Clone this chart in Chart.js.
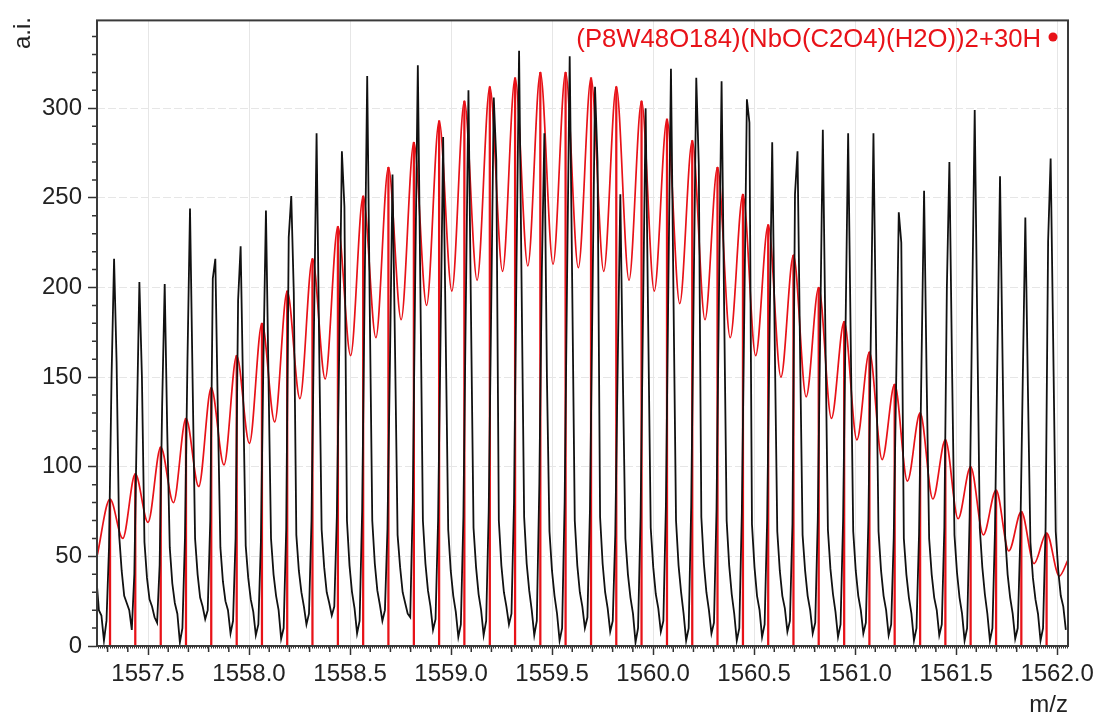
<!DOCTYPE html>
<html>
<head>
<meta charset="utf-8">
<title>Isotope pattern</title>
<script src="https://cdn.jsdelivr.net/npm/chart.js@4.4.1/dist/chart.umd.min.js"></script>
<style>
  html, body { margin: 0; padding: 0; background: #fff; }
</style>
</head>
<body>
<canvas id="spectrum" width="1100" height="715"></canvas>
<script>
// measured spectrum: intensities sampled on a uniform m/z grid
const mzStart = 1557.2443;
const mzStep = 0.01253;
const measuredInt = [
  38, 20,
  17, 3, 14, 55, 150, 216, 158, 62, 42, 28,
  24, 20, 9, 40, 125, 203, 150, 58, 38, 26,
  22, 16, 13, 45, 135, 202, 120, 55, 35, 24,
  18, 2, 10, 60, 160, 244, 150, 60, 40, 27,
  22, 15, 20, 70, 205, 216, 130, 55, 36, 25,
  20, 7, 14, 60, 193, 223, 140, 56, 38, 26,
  19, 6, 12, 58, 160, 243, 150, 60, 40, 28,
  20, 4, 10, 65, 228, 251, 197, 62, 42, 30,
  22, 12, 18, 70, 180, 286, 170, 65, 44, 30,
  24, 17, 22, 72, 170, 276, 245, 70, 45, 30,
  21, 7, 14, 75, 200, 318, 190, 70, 46, 31,
  23, 14, 20, 65, 160, 263, 165, 62, 44, 30,
  24, 18, 16, 80, 210, 324, 200, 70, 46, 31,
  22, 9, 15, 70, 175, 284, 175, 65, 42, 28,
  19, 5, 12, 72, 195, 310, 185, 66, 44, 29,
  20, 6, 14, 75, 190, 306, 271, 70, 45, 30,
  22, 12, 18, 80, 215, 332, 200, 72, 46, 31,
  20, 6, 14, 90, 210, 286, 150, 64, 42, 28,
  18, 3, 10, 80, 210, 329, 200, 70, 45, 30,
  22, 10, 16, 76, 195, 312, 270, 72, 46, 30,
  21, 8, 14, 62, 160, 252, 150, 60, 40, 27,
  18, 2, 10, 72, 190, 300, 180, 66, 44, 29,
  21, 8, 14, 78, 205, 322, 195, 70, 45, 30,
  18, 3, 10, 78, 200, 317, 268, 72, 46, 30,
  20, 7, 13, 76, 200, 315, 190, 70, 45, 29,
  18, 3, 10, 74, 190, 305, 292, 68, 44, 28,
  20, 5, 12, 70, 180, 281, 170, 64, 42, 28,
  21, 8, 14, 68, 252, 276, 165, 62, 42, 28,
  20, 7, 13, 70, 180, 288, 175, 65, 43, 29,
  19, 5, 12, 70, 180, 286, 172, 64, 42, 28,
  20, 7, 13, 70, 178, 286, 172, 64, 42, 28,
  20, 6, 12, 60, 150, 242, 225, 60, 40, 27,
  18, 3, 10, 62, 160, 254, 150, 60, 40, 27,
  20, 6, 12, 66, 200, 270, 160, 62, 41, 27,
  18, 3, 10, 72, 190, 299, 180, 66, 44, 29,
  18, 3, 10, 64, 165, 262, 160, 62, 40, 27,
  18, 4, 10, 60, 150, 239, 145, 58, 38, 26,
  18, 3, 10, 66, 226, 272, 170, 64, 42, 28,
  22, 9
];

// simulated isotope pattern (sticks) and its envelope
const stickMz = [
  1557.312, 1557.437, 1557.563, 1557.688, 1557.813, 1557.939, 1558.064, 1558.189,
  1558.314, 1558.440, 1558.565, 1558.690, 1558.816, 1558.941, 1559.066, 1559.192,
  1559.317, 1559.442, 1559.567, 1559.693, 1559.818, 1559.943, 1560.069, 1560.194,
  1560.319, 1560.445, 1560.570, 1560.695, 1560.820, 1560.946, 1561.071, 1561.196,
  1561.322, 1561.447, 1561.572, 1561.698, 1561.823, 1561.948
];
const stickInt = [
  82, 96, 111, 127, 144, 162, 180, 198, 216, 234, 251, 267, 281, 293, 304, 312,
  317, 320, 320, 317, 312, 304, 294, 282, 267, 252, 235, 218, 200, 181, 164, 146,
  130, 115, 100, 87, 75, 63
];
const valleyMz = [
  1557.375, 1557.500, 1557.626, 1557.751, 1557.876, 1558.002, 1558.127, 1558.252,
  1558.377, 1558.503, 1558.628, 1558.753, 1558.879, 1559.004, 1559.129, 1559.255,
  1559.380, 1559.505, 1559.630, 1559.756, 1559.881, 1560.006, 1560.132, 1560.257,
  1560.382, 1560.508, 1560.633, 1560.758, 1560.883, 1561.009, 1561.134, 1561.259,
  1561.385, 1561.510, 1561.635, 1561.761, 1561.886, 1562.011
];
const valleyInt = [
  60, 69, 80, 89, 101, 113, 125, 138, 149, 162, 172, 182, 190, 198, 204, 209,
  212, 213, 211, 209, 204, 198, 191, 182, 172, 162, 150, 139, 127, 115, 104, 92,
  82, 71, 62, 53, 46, 39
];
const edgeMz = [1557.2475, 1562.054];
const edgeInt = [50, 48];

const xTickValues = [1557.5, 1558.0, 1558.5, 1559.0, 1559.5, 1560.0, 1560.5, 1561.0, 1561.5, 1562.0];
const yTickValues = [0, 50, 100, 150, 200, 250, 300];
const formulaLabel = '(P8W48O184)(NbO(C2O4)(H2O))2+30H';

const RED = 'rgb(232, 18, 24)';
const FONT = '"Liberation Sans", Arial, Helvetica, sans-serif';

const measured = measuredInt.map((y, i) => ({ x: mzStart + i * mzStep, y }));
const sticks = stickMz.map((x, i) => ({ x, y: stickInt[i] }));
const envelope = [{ x: edgeMz[0], y: edgeInt[0] }];
stickMz.forEach((x, i) => {
  envelope.push({ x, y: stickInt[i] });
  envelope.push({ x: valleyMz[i], y: valleyInt[i] });
});
envelope.push({ x: edgeMz[1], y: edgeInt[1] });

// minor ticks, frame and free texts
const decor = {
  id: 'decor',
  afterDraw(chart) {
    const ctx = chart.ctx;
    const a = chart.chartArea;
    const xs = chart.scales.x, ys = chart.scales.y;
    ctx.save();
    ctx.strokeStyle = '#333';
    ctx.lineWidth = 1.5;
    ctx.beginPath();
    for (let v = 10; v < ys.max; v += 10) {
      if (v % 50 === 0) continue;
      const py = ys.getPixelForValue(v);
      ctx.moveTo(a.left - 5, py); ctx.lineTo(a.left, py);
    }
    for (let i = Math.ceil(xs.min * 10); i <= Math.floor(xs.max * 10); i++) {
      if (i % 5 === 0) continue;
      const px = xs.getPixelForValue(i / 10);
      ctx.moveTo(px, a.bottom); ctx.lineTo(px, a.bottom + 6);
    }
    ctx.stroke();
    ctx.lineWidth = 1;
    ctx.beginPath();
    for (let i = Math.ceil(xs.min * 100); i <= Math.floor(xs.max * 100); i++) {
      if (i % 10 === 0) continue;
      const px = Math.round(xs.getPixelForValue(i / 100)) + 0.5;
      ctx.moveTo(px, a.bottom); ctx.lineTo(px, a.bottom + 2.5);
    }
    ctx.stroke();

    ctx.lineWidth = 2;
    ctx.strokeStyle = '#3a3a3a';
    ctx.strokeRect(a.left, a.top, a.right - a.left, a.bottom - a.top);

    ctx.fillStyle = '#222';
    ctx.font = '24px ' + FONT;
    ctx.textAlign = 'right';
    ctx.textBaseline = 'alphabetic';
    ctx.fillText('m/z', a.right, 712);
    ctx.save();
    ctx.translate(30, 33);
    ctx.rotate(-Math.PI / 2);
    ctx.textAlign = 'center';
    ctx.fillText('a.i.', 0, 0);
    ctx.restore();

    ctx.fillStyle = RED;
    ctx.font = '25.7px ' + FONT;
    ctx.textAlign = 'right';
    ctx.fillText(formulaLabel, a.right - 27, 47);
    ctx.beginPath();
    ctx.arc(a.right - 15, 37, 4.5, 0, Math.PI * 2);
    ctx.fill();
    ctx.restore();
  }
};

new Chart(document.getElementById('spectrum'), {
  type: 'line',
  data: {
    datasets: [
      { label: 'measured', data: measured, borderColor: '#111', borderWidth: 1.8,
        pointRadius: 0, tension: 0, order: 1 },
      { label: 'envelope', data: envelope, borderColor: RED, borderWidth: 1.7,
        pointRadius: 0, cubicInterpolationMode: 'monotone', order: 2 },
      { type: 'bar', label: 'sticks', data: sticks, backgroundColor: RED,
        barThickness: 1.6, order: 3 }
    ]
  },
  options: {
    responsive: false,
    animation: false,
    events: [],
    layout: { padding: { left: 0, top: 14, right: 32, bottom: 0 } },
    plugins: { legend: { display: false }, tooltip: { enabled: false } },
    scales: {
      x: {
        type: 'linear', min: 1557.2475, max: 1562.054, offset: false,
        afterFit: s => { s.height = 69; },
        afterBuildTicks: s => { s.ticks = xTickValues.map(v => ({ value: v })); },
        border: { display: false },
        grid: { offset: false, color: '#e6e6e6', lineWidth: 1, tickLength: 9,
                tickColor: '#333', tickWidth: 1.5 },
        ticks: { color: '#222', padding: 5, maxRotation: 0, autoSkip: false,
                 font: { family: FONT, size: 24 }, callback: v => v.toFixed(1) }
      },
      y: {
        min: 0, max: 349,
        afterFit: s => { s.width = 97; },
        afterBuildTicks: s => { s.ticks = yTickValues.map(v => ({ value: v })); },
        border: { display: false, dash: [8, 3] },
        grid: { color: '#e6e6e6', lineWidth: 1, tickLength: 9,
                tickColor: '#333', tickWidth: 1.5 },
        ticks: { color: '#222', padding: 6, font: { family: FONT, size: 24 },
                 callback: v => String(v) }
      }
    }
  },
  plugins: [decor]
});
</script>
</body>
</html>
